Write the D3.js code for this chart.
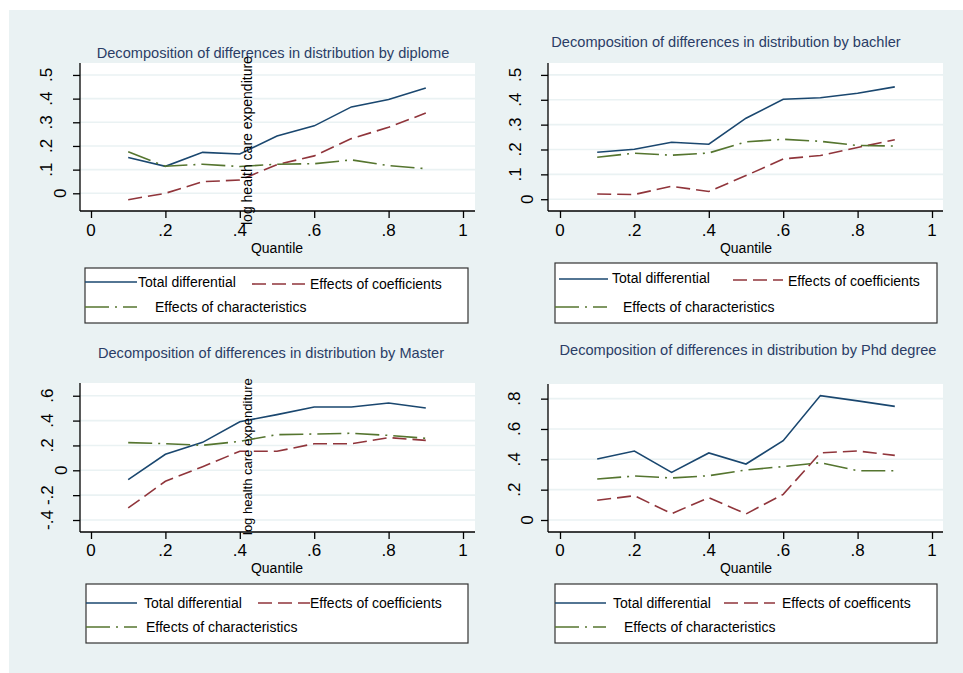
<!DOCTYPE html>
<html>
<head>
<meta charset="utf-8">
<script src="https://cdn.jsdelivr.net/npm/d3@7/dist/d3.min.js"></script>
<style>
  html, body { margin: 0; padding: 0; background: #ffffff; }
  svg { display: block; font-family: "Liberation Sans", Arial, sans-serif; }
</style>
</head>
<body>
<svg id="chart" width="963" height="673"></svg>
<script>
// ---------------- DATA ----------------
const quantiles = [0.1, 0.2, 0.3, 0.4, 0.5, 0.6, 0.7, 0.8, 0.9];

const diplomeTotal = [0.151, 0.114, 0.173, 0.166, 0.242, 0.285, 0.365, 0.396, 0.445];
const diplomeCoef  = [-0.027, 0.000, 0.049, 0.056, 0.121, 0.158, 0.231, 0.279, 0.339];
const diplomeChar  = [0.176, 0.114, 0.123, 0.113, 0.123, 0.125, 0.141, 0.117, 0.104];

const bachlerTotal = [0.189, 0.201, 0.229, 0.221, 0.326, 0.402, 0.408, 0.426, 0.452];
const bachlerCoef  = [0.021, 0.019, 0.052, 0.031, 0.095, 0.162, 0.176, 0.208, 0.239];
const bachlerChar  = [0.169, 0.185, 0.177, 0.186, 0.231, 0.241, 0.233, 0.216, 0.214];

const masterTotal = [-0.075, 0.129, 0.225, 0.391, 0.448, 0.509, 0.509, 0.542, 0.501];
const masterCoef  = [-0.303, -0.088, 0.029, 0.153, 0.153, 0.214, 0.214, 0.263, 0.241];
const masterChar  = [0.223, 0.214, 0.201, 0.233, 0.287, 0.292, 0.298, 0.281, 0.257];

const phdTotal = [0.402, 0.455, 0.314, 0.442, 0.369, 0.523, 0.820, 0.785, 0.749];
const phdCoef  = [0.130, 0.160, 0.042, 0.147, 0.040, 0.169, 0.442, 0.455, 0.426];
const phdChar  = [0.270, 0.290, 0.277, 0.292, 0.330, 0.352, 0.378, 0.325, 0.325];

const xTicks = [0, 0.2, 0.4, 0.6, 0.8, 1];
const xTickLabels = ["0", ".2", ".4", ".6", ".8", "1"];

const yTicksA = [0, 0.1, 0.2, 0.3, 0.4, 0.5];
const yTickLabelsA = ["0", ".1", ".2", ".3", ".4", ".5"];
const yTicksMaster = [-0.4, -0.2, 0, 0.2, 0.4, 0.6];
const yTickLabelsMaster = ["-.4", "-.2", "0", ".2", ".4", ".6"];
const yTicksPhd = [0, 0.2, 0.4, 0.6, 0.8];
const yTickLabelsPhd = ["0", ".2", ".4", ".6", ".8"];

const titles = [
  "Decomposition of differences in distribution by diplome",
  "Decomposition of differences in distribution by bachler",
  "Decomposition of differences in distribution by Master",
  "Decomposition of differences in distribution by Phd degree"
];
const xAxisTitle = "Quantile";
const overlayLabel = "log health care expenditure";

const legendLabelsStd = ["Total differential", "Effects of coefficients", "Effects of characteristics"];
const legendLabelsPhd = ["Total differential", "Effects of coefficents", "Effects of characteristics"];

// ---------------- STYLE ----------------
const COLORS = { total: "#1a476f", coef: "#90353b", char: "#55752f" };
const DASH = { total: null, coef: "14,6", char: "24,6,2,6" };
const BG = "#eaf2f3";

// ---------------- PANELS ----------------
const panels = [
  {
    title: titles[0], titleX: 273, titleY: 58,
    box: { l: 80, r: 475, t: 63, b: 211 },
    xr: [91, 463], yDom: [-0.0748, 0.5505],
    yTicks: yTicksA, yLabels: yTickLabelsA, yLabX: 52, yZeroX: 66,
    series: { total: diplomeTotal, coef: diplomeCoef, char: diplomeChar },
    overlay: { x: 252, y: 225, size: 14 },
    xLabY: 236, qY: 253,
    legend: {
      labels: legendLabelsStd, box: [85, 268, 468, 323],
      items: [
        { k: "total", x1: 85, x2: 137, y: 282, tx: 138, ty: 282 },
        { k: "coef", x1: 252, x2: 305, y: 284, tx: 310, ty: 284 },
        { k: "char", x1: 85, x2: 137, y: 307, tx: 155, ty: 307 }
      ]
    }
  },
  {
    title: titles[1], titleX: 726, titleY: 47,
    box: { l: 548, r: 943, t: 63, b: 211 },
    xr: [560, 932], yDom: [-0.0474, 0.5479],
    yTicks: yTicksA, yLabels: yTickLabelsA, yLabX: 521, yZeroX: 533,
    series: { total: bachlerTotal, coef: bachlerCoef, char: bachlerChar },
    overlay: null,
    xLabY: 236, qY: 253,
    legend: {
      labels: legendLabelsStd, box: [555, 263, 937, 323],
      items: [
        { k: "total", x1: 559, x2: 608, y: 279, tx: 612, ty: 278 },
        { k: "coef", x1: 733, x2: 783, y: 280, tx: 788, ty: 281 },
        { k: "char", x1: 555, x2: 607, y: 307, tx: 623, ty: 307 }
      ]
    }
  },
  {
    title: titles[2], titleX: 271, titleY: 358,
    box: { l: 80, r: 475, t: 383, b: 532 },
    xr: [91, 463], yDom: [-0.4964, 0.7024],
    yTicks: yTicksMaster, yLabels: yTickLabelsMaster, yLabX: 53, yZeroX: 67,
    series: { total: masterTotal, coef: masterCoef, char: masterChar },
    overlay: { x: 252, y: 535, size: 13 },
    xLabY: 556, qY: 573,
    legend: {
      labels: legendLabelsStd, box: [86, 584, 468, 643],
      items: [
        { k: "total", x1: 86, x2: 137, y: 603, tx: 144, ty: 603 },
        { k: "coef", x1: 258, x2: 310, y: 603, tx: 310, ty: 603 },
        { k: "char", x1: 86, x2: 137, y: 627, tx: 146, ty: 627 }
      ]
    }
  },
  {
    title: titles[3], titleX: 748, titleY: 355,
    box: { l: 548, r: 943, t: 384, b: 532 },
    xr: [560, 932], yDom: [-0.0791, 0.8965],
    yTicks: yTicksPhd, yLabels: yTickLabelsPhd, yLabX: 520, yZeroX: 533,
    series: { total: phdTotal, coef: phdCoef, char: phdChar },
    overlay: null,
    xLabY: 556, qY: 573,
    legend: {
      labels: legendLabelsPhd, box: [555, 584, 937, 643],
      items: [
        { k: "total", x1: 555, x2: 606, y: 603, tx: 613, ty: 603 },
        { k: "coef", x1: 724, x2: 775, y: 603, tx: 782, ty: 603 },
        { k: "char", x1: 555, x2: 606, y: 627, tx: 624, ty: 627 }
      ]
    }
  }
];

const svg = d3.select("#chart");

// outer background
svg.append("rect").attr("x", 9).attr("y", 10).attr("width", 954).attr("height", 663).attr("fill", BG);

const keys = ["total", "coef", "char"];

panels.forEach(p => {
  const g = svg.append("g");
  const x = d3.scaleLinear().domain([0, 1]).range(p.xr);
  const y = d3.scaleLinear().domain(p.yDom).range([p.box.b, p.box.t]);

  // plot region
  g.append("rect")
    .attr("x", p.box.l).attr("y", p.box.t)
    .attr("width", p.box.r - p.box.l).attr("height", p.box.b - p.box.t)
    .attr("fill", "#ffffff");

  // gridlines
  g.selectAll(".grid").data(p.yTicks).enter().append("line")
    .attr("x1", p.box.l).attr("x2", p.box.r)
    .attr("y1", d => y(d)).attr("y2", d => y(d))
    .attr("stroke", BG).attr("stroke-width", 1.6);

  // title
  g.append("text").attr("x", p.titleX).attr("y", p.titleY)
    .attr("text-anchor", "middle").attr("font-size", 14.6).attr("fill", "#2a3d66")
    .text(p.title);

  // y axis
  const yAxis = d3.axisLeft(y).tickValues(p.yTicks).tickSize(7).tickFormat("");
  const ya = g.append("g").attr("transform", `translate(${p.box.l},0)`).call(yAxis);
  ya.select(".domain").attr("d", `M0,${p.box.t}V${p.box.b}`).attr("stroke", "#000").attr("stroke-width", 1.3);
  ya.selectAll(".tick line").attr("stroke", "#000").attr("stroke-width", 1.3);
  g.selectAll(".ylab").data(p.yTicks).enter().append("text")
    .attr("transform", (d, i) => `translate(${p.yLabels[i] === "0" ? p.yZeroX : p.yLabX},${y(d)}) rotate(-90)`)
    .attr("text-anchor", "middle").attr("font-size", 17).attr("fill", "#000")
    .text((d, i) => p.yLabels[i]);

  // x axis
  const xAxis = d3.axisBottom(x).tickValues(xTicks).tickSize(7).tickFormat("");
  const xa = g.append("g").attr("transform", `translate(0,${p.box.b})`).call(xAxis);
  xa.select(".domain").attr("d", `M${p.box.l},0H${p.box.r}`).attr("stroke", "#000").attr("stroke-width", 1.3);
  xa.selectAll(".tick line").attr("stroke", "#000").attr("stroke-width", 1.3);
  g.selectAll(".xlab").data(xTicks).enter().append("text")
    .attr("x", d => x(d)).attr("y", p.xLabY)
    .attr("text-anchor", "middle").attr("font-size", 17).attr("fill", "#000")
    .text((d, i) => xTickLabels[i]);
  g.append("text").attr("x", (p.xr[0] + p.xr[1]) / 2).attr("y", p.qY)
    .attr("text-anchor", "middle").attr("font-size", 14).attr("fill", "#000")
    .text(xAxisTitle);

  // series lines
  const line = d3.line().x((d, i) => x(quantiles[i])).y(d => y(d));
  keys.forEach(k => {
    g.append("path").datum(p.series[k])
      .attr("d", line).attr("fill", "none")
      .attr("stroke", COLORS[k]).attr("stroke-width", 1.6)
      .attr("stroke-dasharray", DASH[k]);
  });

  // overlay rotated text
  if (p.overlay) {
    g.append("text")
      .attr("transform", `translate(${p.overlay.x},${p.overlay.y}) rotate(-90)`)
      .attr("text-anchor", "start").attr("font-size", p.overlay.size).attr("fill", "#000")
      .text(overlayLabel);
  }

  // legend
  const L = p.legend;
  g.append("rect").attr("x", L.box[0]).attr("y", L.box[1])
    .attr("width", L.box[2] - L.box[0]).attr("height", L.box[3] - L.box[1])
    .attr("fill", "#ffffff").attr("stroke", "#333").attr("stroke-width", 1.2);
  L.items.forEach((it, i) => {
    g.append("line").attr("x1", it.x1).attr("x2", it.x2).attr("y1", it.y).attr("y2", it.y)
      .attr("stroke", COLORS[it.k]).attr("stroke-width", 1.6)
      .attr("stroke-dasharray", DASH[it.k]);
    g.append("text").attr("x", it.tx).attr("y", it.ty)
      .attr("dominant-baseline", "central").attr("font-size", 14).attr("fill", "#000")
      .text(L.labels[i]);
  });
});
</script>
</body>
</html>
